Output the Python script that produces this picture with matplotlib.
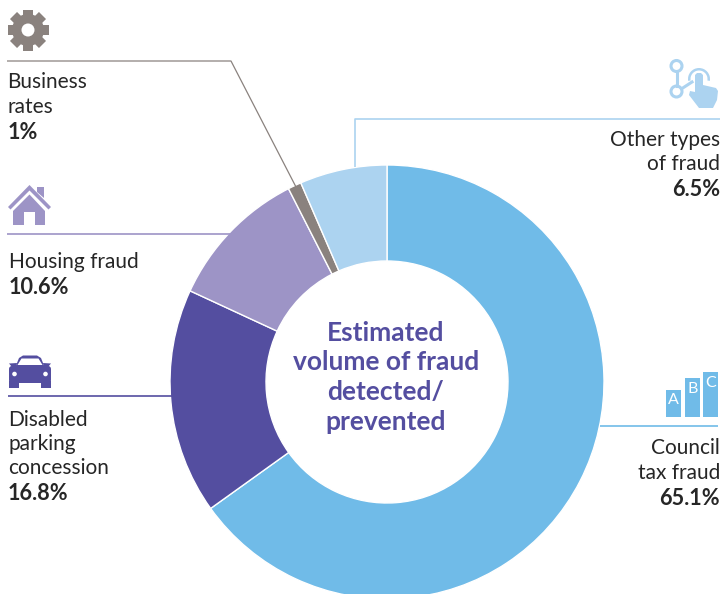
import matplotlib
matplotlib.use("Agg")
import numpy as np
import matplotlib.pyplot as plt
from matplotlib.patches import Circle, Polygon, Rectangle, FancyBboxPatch, Wedge

categories = ["Council tax fraud", "Disabled parking concession", "Housing fraud", "Business rates", "Other types of fraud"]
values = [65.1, 16.8, 10.6, 1.0, 6.5]
value_labels = ["65.1%", "16.8%", "10.6%", "1%", "6.5%"]
colors = ["#70bbe8", "#544ea0", "#9d94c6", "#8a827e", "#acd3f0"]
center_title = ["Estimated", "volume of fraud", "detected/", "prevented"]

W, H = 723, 594
plt.rcParams["font.family"] = ["Lato", "DejaVu Sans"]
TEXT = "#262626"
PURPLE = "#544ea0"

fig = plt.figure(figsize=(W / 100, H / 100), dpi=100)
ax = fig.add_axes([0, 0, 1, 1])


def Y(y):
    # reference pixels count from the top
    return H - y


def poly(points, color):
    ax.add_patch(Polygon([(x, Y(y)) for x, y in points], color=color, lw=0))


ax.pie(values, colors=colors, startangle=90, counterclock=False, center=(387, Y(382)), radius=217,
       wedgeprops=dict(width=96, edgecolor="white", linewidth=1.0), frame=True)
ax.set_xlim(0, W)
ax.set_ylim(0, H)
ax.set_aspect("equal")
ax.axis("off")


def leader(xs, ys, color, lw=1.2):
    ax.plot(xs, [Y(v) for v in ys], color=color, lw=lw, solid_capstyle="butt", zorder=1)


leader([7, 231, 296], [61, 61, 187], "#8a827e", 0.9)
leader([7, 232], [234, 234], colors[2])
leader([8, 172], [396, 396], colors[1])
leader([355, 355, 720], [167, 119, 119], colors[4])
leader([600, 718], [426, 426], colors[0])


def label(x, y, lines, value, ha="left", step=24.5):
    for i, line in enumerate(lines):
        ax.text(x, Y(y + 1.5 + i * step), line, fontsize=15, color=TEXT, ha=ha, va="center")
    ax.text(x, Y(y + 2.5 + len(lines) * step), value, fontsize=15.6, fontweight="bold", color=TEXT, ha=ha, va="center")


label(7.5, 81, ["Business", "rates"], value_labels[3])
label(9, 260, ["Housing fraud"], value_labels[2])
label(8, 418, ["Disabled", "parking", "concession"], value_labels[1])
label(720, 138, ["Other types", "of fraud"], value_labels[4], ha="right")
label(720, 447, ["Council", "tax fraud"], value_labels[0], ha="right")

for i, line in enumerate(center_title):
    ax.text(386, Y(333 + i * 29.5), line, fontsize=19, fontweight="bold", color=PURPLE, ha="center", va="center")

# gear icon
gear = colors[3]
ax.add_patch(Circle((28, Y(30)), 16, color=gear, lw=0))
for a in np.arange(0, 180, 45):
    ax.add_patch(Rectangle((28 - 5, Y(30) - 20.5), 10, 41, angle=a, rotation_point=(28, Y(30)), color=gear, lw=0))
ax.add_patch(Circle((28, Y(30)), 6.5, color="white", lw=0))

# house icon
house = colors[2]
poly([(13, 225), (13, 211), (29.5, 194.5), (45, 211), (45, 225), (35, 225), (35, 212), (24, 212), (24, 225)], house)
poly([(8, 207), (29.5, 185), (51, 207), (48.5, 209.5), (29.5, 190.5), (10.5, 209.5)], house)
poly([(37, 187), (44, 187), (44, 198), (37, 192)], house)

# car icon
car = colors[1]
ax.add_patch(FancyBboxPatch((9, Y(383)), 42, 17, boxstyle="round,pad=0,rounding_size=3", color=car, lw=0))
ax.add_patch(Rectangle((9, Y(388)), 10, 7, color=car, lw=0))
ax.add_patch(Rectangle((41, Y(388)), 10, 7, color=car, lw=0))
poly([(15, 368), (19, 358), (23, 355.5), (37, 355.5), (41, 358), (45, 368)], car)
poly([(17.5, 365), (21.5, 358.5), (38.5, 358.5), (42.5, 365)], "white")
poly([(9, 363.5), (17, 363), (16, 367), (12, 367)], car)
poly([(51, 363.5), (43, 363), (44, 367), (48, 367)], car)
ax.add_patch(Circle((14.5, Y(374)), 2.3, color="white", lw=0))
ax.add_patch(Circle((45.5, Y(374)), 2.3, color="white", lw=0))

# touch icon
touch = colors[4]
ax.add_patch(Circle((676.5, Y(66)), 5.5, fill=False, ec=touch, lw=2.2))
ax.add_patch(Circle((676.5, Y(91.5)), 5.5, fill=False, ec=touch, lw=2.2))
ax.plot([676.5, 676.5], [Y(72), Y(85.5)], color=touch, lw=2.2)
ax.plot([682, 692], [Y(88.5), Y(82)], color=touch, lw=2.2)
ax.add_patch(Wedge((699, Y(79)), 11, -10, 190, width=2.5, color=touch, lw=0))
poly([(695, 78), (695, 75), (697, 73), (701, 73), (703, 75), (703, 85), (716, 88), (718, 91), (717, 100),
      (713, 108), (699, 108), (689, 95), (690, 91), (695, 92)], touch)

# council tax icon
bars = colors[0]
for x0, top, letter, ly in [(666, 390, "A", 400), (685, 378, "B", 389), (703, 372, "C", 383)]:
    ax.add_patch(Rectangle((x0, Y(417)), 15, 417 - top, color=bars, lw=0))
    ax.text(x0 + 7.5, Y(ly), letter, fontsize=11.5, color="white", ha="center", va="center")

fig.savefig("out.png", dpi=100)
